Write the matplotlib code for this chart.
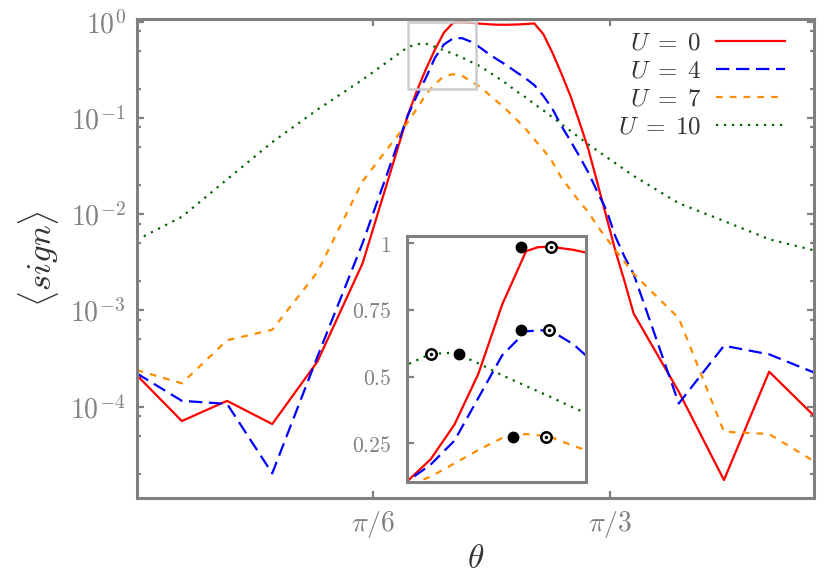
import numpy as np
import matplotlib
matplotlib.use("Agg")
import matplotlib.pyplot as plt
from matplotlib.ticker import LogLocator, FixedLocator, NullFormatter
from matplotlib.patches import Rectangle

plt.rcParams['mathtext.fontset'] = 'cm'
plt.rcParams['font.family'] = ['DejaVu Serif']

# ---------------- data ----------------
theta_fine = [0.0, 0.1, 0.2, 0.3, 0.4, 0.5, 0.6, 0.62, 0.64, 0.66, 0.68, 0.70,
              0.72, 0.74, 0.76, 0.78, 0.80, 0.82, 0.84, 0.86, 0.88, 0.90,
              0.92, 0.94, 0.96, 0.98, 1.00, 1.02, 1.04, 1.06, 1.08, 1.10,
              1.2, 1.3, 1.4, 1.5]

theta_u0 = [0.0, 0.1, 0.2, 0.3, 0.4, 0.5, 0.6, 0.62, 0.64, 0.66, 0.68, 0.70, 0.71,
            0.72, 0.74, 0.76, 0.78, 0.80, 0.82, 0.84, 0.86, 0.88, 0.90,
            0.92, 0.94, 0.96, 0.98, 1.00, 1.02, 1.04, 1.06, 1.08, 1.10,
            1.2, 1.3, 1.4, 1.5]
sign_u0 = [2.13e-4, 7.1e-5, 1.15e-4, 6.6e-5, 2.94e-4, 3.09e-3, 0.106, 0.19, 0.32, 0.51, 0.77, 0.97, 0.985,
           0.987, 0.975, 0.955, 0.94, 0.93, 0.93, 0.935, 0.945, 0.96, 0.745,
           0.48, 0.29, 0.17, 0.091, 0.047, 0.021, 0.0093, 4.1e-3, 2.0e-3, 9.3e-4,
           1.43e-4, 1.73e-5, 2.31e-4, 8.0e-5]

sign_u4 = [2.22e-4, 1.15e-4, 1.07e-4, 2.03e-5, 3.3e-4, 5.0e-3, 0.106, 0.17, 0.26, 0.42, 0.58, 0.67,
           0.675, 0.62, 0.54, 0.46, 0.40, 0.35, 0.30, 0.26, 0.22, 0.17,
           0.125, 0.083, 0.058, 0.040, 0.027, 0.017, 0.011, 5.8e-3, 3.6e-3, 2.4e-3,
           1.08e-4, 4.3e-4, 3.5e-4, 2.26e-4]

sign_u7 = [2.4e-4, 1.75e-4, 4.9e-4, 6.3e-4, 2.5e-3, 0.022, 0.09, 0.125, 0.175, 0.225, 0.27, 0.285,
           0.275, 0.24, 0.21, 0.175, 0.145, 0.12, 0.097, 0.078, 0.06, 0.047,
           0.035, 0.024, 0.018, 0.0135, 0.0105, 7.5e-3, 5.6e-3, 4.2e-3, 3.2e-3, 2.4e-3,
           8.3e-4, 5.5e-5, 5.2e-5, 2.7e-5]

theta_u10 = [0.0, 0.1, 0.2, 0.3, 0.4, 0.5, 0.6, 0.62, 0.64, 0.66, 0.68, 0.70,
             0.72, 0.74, 0.76, 0.78, 0.80, 0.82, 0.84, 0.86, 0.88, 0.90,
             1.0, 1.1, 1.2, 1.3, 1.4, 1.5]
sign_u10 = [5.4e-3, 9.4e-3, 0.023, 0.056, 0.122, 0.25, 0.544, 0.585, 0.59, 0.55, 0.505, 0.465,
            0.425, 0.383, 0.345, 0.30, 0.26, 0.225, 0.19, 0.165, 0.14, 0.12,
            0.053, 0.025, 0.013, 8.5e-3, 5.5e-3, 4.2e-3]

# inset markers (filled / open) for each U
mark_filled_x = [0.696, 0.6956, 0.689, 0.644]
mark_filled_y = [0.987, 0.675, 0.272, 0.585]
mark_open_x = [0.7207, 0.7195, 0.7165, 0.620]
mark_open_y = [0.987, 0.675, 0.272, 0.585]

labels = [r'$U\;=\;0$', r'$U\;=\;4$', r'$U\;=\;7$', r'$U\;=\;10$']
colors = ['#ff0000', '#0000ff', '#ff8c00', '#006400']
dashes = [None, (6, 3), (3, 3.2), (1, 2.6)]

series = [(theta_u0, sign_u0), (theta_fine, sign_u4), (theta_fine, sign_u7), (theta_u10, sign_u10)]

gray = '#808080'
dark = '#333333'
lw = 1.6

fig = plt.figure(figsize=(8.3, 5.81), dpi=100)
ax = fig.add_axes([0.1647, 0.1423, 0.9811 - 0.1647, 0.9673 - 0.1423])

def draw(a):
    hs = []
    for (t, s), c, d, lab in zip(series, colors, dashes, labels):
        if d is None:
            h, = a.plot(t, s, color=c, lw=lw, label=lab)
        else:
            h, = a.plot(t, s, color=c, lw=lw, dashes=d, label=lab)
        hs.append(h)
    return hs

draw(ax)
ax.set_yscale('log')
ax.set_xlim(0, 1.5)
ax.set_ylim(1.117e-5, 1.067)

ax.set_xticks([np.pi / 6, np.pi / 3])
ax.set_xticklabels([r'$\pi/6$', r'$\pi/3$'])
ax.yaxis.set_major_locator(FixedLocator([1e-4, 1e-3, 1e-2, 1e-1, 1e0]))
ax.set_yticklabels([r'$10^{-4}$', r'$10^{-3}$', r'$10^{-2}$', r'$10^{-1}$', r'$10^{0}$'])
ax.yaxis.set_minor_locator(LogLocator(base=10, subs=(2.0, 5.0, 8.0), numticks=20))
ax.yaxis.set_minor_formatter(NullFormatter())
ax.tick_params(which='both', direction='in', colors=gray, labelcolor=gray,
               top=True, right=True, labelsize=20, width=1.6)
ax.tick_params(which='major', length=5, pad=8)
ax.tick_params(which='minor', length=3)
for sp in ax.spines.values():
    sp.set_color(gray)
    sp.set_linewidth(2.2)

ax.set_xlabel(r'$\theta$', fontsize=24, color=dark, labelpad=2)
ax.set_ylabel(r'$\langle sign \rangle$', fontsize=25, color=dark, labelpad=7)

ax.add_patch(Rectangle((0.6, 0.2), 0.15, 0.8, fill=False, ec='#cccccc', lw=1.8, zorder=5))

leg = ax.legend(loc='upper right', bbox_to_anchor=(0.99, 1.02), frameon=False,
                markerfirst=False, fontsize=18, handlelength=2.75, labelspacing=0.2,
                handletextpad=0.6)
for t in leg.get_texts():
    t.set_color(dark)

# ---------------- inset ----------------
ins = fig.add_axes([406.7 / 830, 1 - 482.3 / 581, (585.7 - 406.7) / 830, (482.3 - 236) / 581])
ins.set_facecolor('white')
draw(ins)
ins.set_xlim(0.6, 0.75)
ins.set_ylim(0.104, 1.027)
ins.set_xticks([])
ins.set_yticks([0.25, 0.5, 0.75, 1.0])
ins.set_yticklabels([r'$0.25$', r'$0.5$', r'$0.75$', r'$1$'])
ins.tick_params(axis='y', direction='in', colors=gray, labelcolor=gray, length=5, width=1.6,
                pad=11, labelsize=15.5)
for sp in ins.spines.values():
    sp.set_color(gray)
    sp.set_linewidth(2.2)

ins.plot(mark_filled_x, mark_filled_y, 'o', color='black', ms=7.5, ls='none', zorder=6, clip_on=False)
ins.plot(mark_open_x, mark_open_y, 'o', mfc='white', mec='black', mew=1.8, ms=7.5, ls='none', zorder=6, clip_on=False)
ins.plot(mark_open_x, mark_open_y, 'o', color='black', ms=1.5, ls='none', zorder=7, clip_on=False)

fig.savefig('out.png', dpi=100)
